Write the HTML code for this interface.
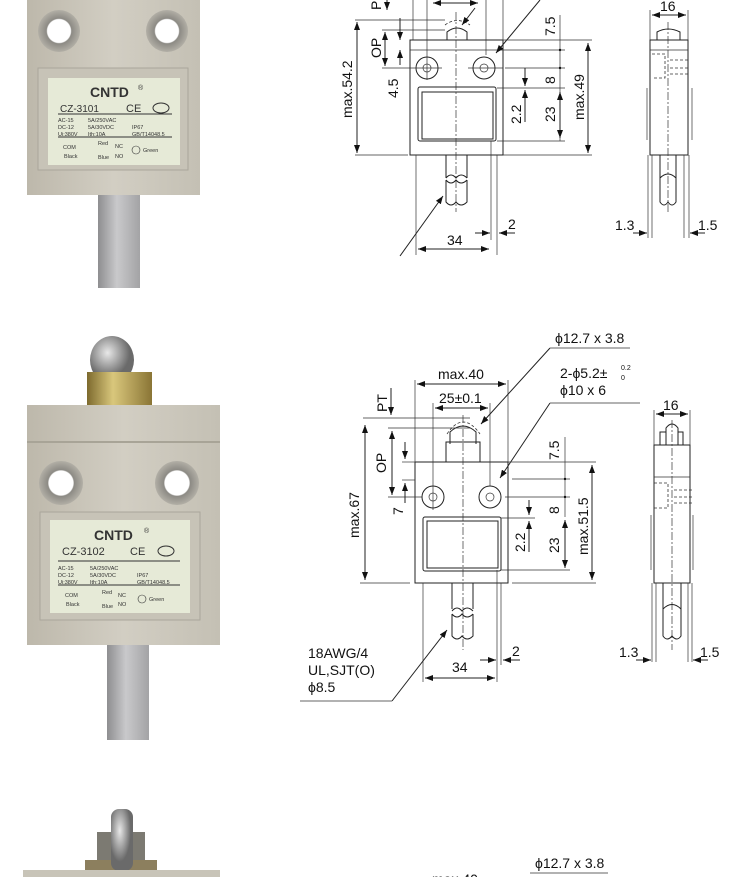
<!DOCTYPE html>
<html><head><meta charset="utf-8"><style>
html,body{margin:0;padding:0;background:#fff;}
svg{display:block;}
text{font-family:"Liberation Sans",sans-serif;fill:#111;}
.d{stroke:#222;stroke-width:1;fill:none;}
.t{stroke:#333;stroke-width:0.7;fill:none;}
.c{stroke:#333;stroke-width:0.7;fill:none;stroke-dasharray:8 2 2 2;}
.h{stroke:#333;stroke-width:0.8;fill:none;stroke-dasharray:3 2;}
.lbl text{fill:#333;}
</style></head><body>
<svg width="750" height="877" viewBox="0 0 750 877" xmlns="http://www.w3.org/2000/svg">
<defs>
<marker id="a" markerWidth="8" markerHeight="6" refX="8" refY="3" orient="auto-start-reverse" markerUnits="userSpaceOnUse"><path d="M0,0 L8,3 L0,6z" fill="#111"/></marker>
<linearGradient id="body" x1="0" x2="1"><stop offset="0" stop-color="#bdb8ab"/><stop offset="0.5" stop-color="#d2cec3"/><stop offset="1" stop-color="#c4c0b4"/></linearGradient>
<linearGradient id="cab" x1="0" x2="1"><stop offset="0" stop-color="#8e8e90"/><stop offset="0.45" stop-color="#c9c9cb"/><stop offset="1" stop-color="#a3a3a5"/></linearGradient>
<linearGradient id="brass" x1="0" x2="1"><stop offset="0" stop-color="#7d6a2e"/><stop offset="0.4" stop-color="#d9c77c"/><stop offset="1" stop-color="#8a7535"/></linearGradient>
<radialGradient id="steel" cx="0.4" cy="0.35"><stop offset="0" stop-color="#e8e8e8"/><stop offset="1" stop-color="#6a6a6a"/></radialGradient>
<radialGradient id="hole"><stop offset="0.55" stop-color="#fff"/><stop offset="0.6" stop-color="#8c8a84"/><stop offset="1" stop-color="#b2afa6"/></radialGradient>
</defs>

<!-- ================= PHOTO 1 ================= -->
<rect x="98" y="190" width="42" height="98" fill="url(#cab)"/>
<rect x="27" y="0" width="173" height="195" fill="url(#body)"/>
<circle cx="59" cy="31" r="21" fill="url(#hole)"/>
<circle cx="167" cy="31" r="21" fill="url(#hole)"/>
<rect x="38" y="68" width="150" height="102" fill="#c7c3b7" stroke="#aaa69b"/>
<rect x="48" y="78" width="132" height="87" fill="#e6ead7"/>
<g class="lbl">
<text x="90" y="97" font-size="14" font-weight="bold">CNTD</text><text x="138" y="90" font-size="7">®</text>
<text x="60" y="112" font-size="10">CZ-3101</text><text x="126" y="112" font-size="11">CE</text>
<ellipse cx="161" cy="108" rx="8" ry="5" fill="none" stroke="#333"/>
<line x1="58" y1="114" x2="172" y2="114" stroke="#333"/>
<text x="58" y="122" font-size="5.5">AC-15</text><text x="88" y="122" font-size="5.5">5A/250VAC</text>
<text x="58" y="129" font-size="5.5">DC-12</text><text x="88" y="129" font-size="5.5">5A/30VDC</text><text x="132" y="129" font-size="5.5">IP67</text>
<text x="58" y="136" font-size="5.5">Ui:380V</text><text x="88" y="136" font-size="5.5">Ith:10A</text><text x="132" y="136" font-size="5.5">GB/T14048.5</text>
<line x1="58" y1="137" x2="172" y2="137" stroke="#333"/>
<text x="63" y="149" font-size="5.5">COM</text><text x="98" y="145" font-size="5.5">Red</text><text x="115" y="148" font-size="5.5">NC</text>
<text x="64" y="158" font-size="5.5">Black</text><text x="98" y="159" font-size="5.5">Blue</text><text x="115" y="158" font-size="5.5">NO</text>
<circle cx="136" cy="150" r="4" fill="none" stroke="#333" stroke-width="0.6"/><text x="143" y="152" font-size="5.5">Green</text>
</g>

<!-- ================= PHOTO 2 ================= -->
<rect x="107" y="640" width="42" height="100" fill="url(#cab)"/>
<ellipse cx="112" cy="360" rx="22" ry="24" fill="url(#steel)"/>
<rect x="87" y="372" width="65" height="38" fill="url(#brass)"/>
<rect x="27" y="405" width="193" height="240" fill="url(#body)"/>
<line x1="27" y1="442" x2="220" y2="442" stroke="#a8a497" stroke-width="2"/>
<circle cx="61" cy="483" r="22" fill="url(#hole)"/>
<circle cx="177" cy="483" r="22" fill="url(#hole)"/>
<rect x="40" y="512" width="160" height="108" fill="#c7c3b7" stroke="#aaa69b"/>
<rect x="50" y="520" width="140" height="93" fill="#e6ead7"/>
<g class="lbl">
<text x="94" y="540" font-size="14" font-weight="bold">CNTD</text><text x="144" y="533" font-size="7">®</text>
<text x="62" y="555" font-size="11">CZ-3102</text><text x="130" y="555" font-size="11">CE</text>
<ellipse cx="166" cy="551" rx="8" ry="5" fill="none" stroke="#333"/>
<line x1="58" y1="561" x2="180" y2="561" stroke="#333"/>
<text x="58" y="570" font-size="5.5">AC-15</text><text x="90" y="570" font-size="5.5">5A/250VAC</text>
<text x="58" y="577" font-size="5.5">DC-12</text><text x="90" y="577" font-size="5.5">5A/30VDC</text><text x="137" y="577" font-size="5.5">IP67</text>
<text x="58" y="584" font-size="5.5">Ui:380V</text><text x="90" y="584" font-size="5.5">Ith:10A</text><text x="137" y="584" font-size="5.5">GB/T14048.5</text>
<line x1="58" y1="585" x2="180" y2="585" stroke="#333"/>
<text x="65" y="597" font-size="5.5">COM</text><text x="102" y="594" font-size="5.5">Red</text><text x="118" y="597" font-size="5.5">NC</text>
<text x="66" y="606" font-size="5.5">Black</text><text x="102" y="608" font-size="5.5">Blue</text><text x="118" y="606" font-size="5.5">NO</text>
<circle cx="142" cy="599" r="4" fill="none" stroke="#333" stroke-width="0.6"/><text x="149" y="601" font-size="5.5">Green</text>
</g>

<!-- ================= PHOTO 3 (partial) ================= -->
<rect x="97" y="832" width="48" height="45" fill="#7c7a72"/>
<rect x="85" y="860" width="72" height="17" fill="#8c7f5e"/>
<rect x="111" y="809" width="22" height="62" rx="8" fill="url(#steel)"/>
<rect x="23" y="870" width="197" height="7" fill="#c8c4b8"/>

<!-- ================= DRAWING 1 ================= -->
<g>
<rect class="d" x="410" y="40" width="93" height="115"/>
<line class="t" x1="410" y1="50" x2="503" y2="50"/>
<circle class="d" cx="427" cy="68" r="11"/><circle class="t" cx="427" cy="68" r="4"/>
<circle class="d" cx="484" cy="68" r="11"/><circle class="t" cx="484" cy="68" r="4"/>
<line class="t" x1="410" y1="68" x2="442" y2="68"/><line class="t" x1="468" y1="68" x2="503" y2="68"/>
<rect class="d" x="418" y="87" width="78" height="54" rx="2"/>
<rect class="d" x="422" y="92" width="71" height="47"/>
<path class="d" d="M447,40 V32 Q457,24 467,32 V40"/>
<path class="h" d="M445,25 Q457,16 470,25"/>
<line class="c" x1="456" y1="12" x2="456" y2="212"/>
<path class="d" d="M446,155 V178 M467,155 V178 M446,180 V202 Q451,208 456,202 Q461,208 467,202 V180 M446,178 Q451,172 456,178 Q461,172 467,178"/>
<path class="d" d="M446,180 Q451,186 456,180 Q461,186 467,180"/>
<!-- ext lines -->
<line class="t" x1="413" y1="0" x2="413" y2="40"/>
<line class="t" x1="427" y1="0" x2="427" y2="80"/>
<line class="t" x1="486" y1="0" x2="486" y2="55"/>
<line class="t" x1="503" y1="0" x2="503" y2="40"/>
<line class="t" x1="355" y1="20" x2="445" y2="20"/>
<line class="t" x1="355" y1="155" x2="408" y2="155"/>
<line class="t" x1="382" y1="30" x2="445" y2="30"/>
<line class="t" x1="382" y1="68" x2="410" y2="68"/>
<line class="d" x1="357" y1="22" x2="357" y2="153" marker-start="url(#a)" marker-end="url(#a)"/>
<text transform="translate(352,118) rotate(-90)" font-size="14">max.54.2</text>
<line class="d" x1="385" y1="32" x2="385" y2="66" marker-start="url(#a)" marker-end="url(#a)"/>
<text transform="translate(381,58) rotate(-90)" font-size="14">OP</text>
<line class="d" x1="400" y1="18" x2="400" y2="40" marker-end="url(#a)"/>
<line class="d" x1="400" y1="65" x2="400" y2="50" marker-end="url(#a)"/>
<text transform="translate(398,98) rotate(-90)" font-size="14">4.5</text>
<text transform="translate(381,10) rotate(-90)" font-size="14">P</text>
<line class="d" x1="387" y1="0" x2="387" y2="10" marker-end="url(#a)"/>
<line class="d" x1="433" y1="3" x2="478" y2="3" marker-start="url(#a)" marker-end="url(#a)"/>
<line class="d" x1="475" y1="8" x2="462" y2="25" marker-end="url(#a)"/>
<line class="d" x1="540" y1="0" x2="496" y2="53" marker-end="url(#a)"/>
<!-- right dims -->
<line class="t" x1="503" y1="40" x2="592" y2="40"/>
<line class="t" x1="503" y1="50" x2="565" y2="50"/>
<line class="t" x1="505" y1="68" x2="565" y2="68"/>
<line class="t" x1="497" y1="88" x2="565" y2="88"/>
<line class="t" x1="497" y1="141" x2="565" y2="141"/>
<line class="t" x1="503" y1="155" x2="592" y2="155"/>
<line class="t" x1="560" y1="15" x2="560" y2="141"/>
<circle cx="560" cy="50" r="1.2" fill="#111"/><circle cx="560" cy="68" r="1.2" fill="#111"/>
<text transform="translate(555,36) rotate(-90)" font-size="14">7.5</text>
<text transform="translate(555,84) rotate(-90)" font-size="14">8</text>
<text transform="translate(555,122) rotate(-90)" font-size="14">23</text>
<line class="d" x1="560" y1="92" x2="560" y2="138" marker-start="url(#a)" marker-end="url(#a)"/>
<line class="d" x1="525" y1="68" x2="525" y2="86" marker-end="url(#a)"/>
<line class="d" x1="525" y1="122" x2="525" y2="90" marker-end="url(#a)"/>
<text transform="translate(521,124) rotate(-90)" font-size="14">2.2</text>
<line class="d" x1="588" y1="43" x2="588" y2="153" marker-start="url(#a)" marker-end="url(#a)"/>
<text transform="translate(584,120) rotate(-90)" font-size="14">max.49</text>
<!-- bottom -->
<line class="t" x1="416" y1="155" x2="416" y2="255"/>
<line class="t" x1="491" y1="141" x2="491" y2="240"/>
<line class="t" x1="497" y1="155" x2="497" y2="255"/>
<line class="d" x1="418" y1="249" x2="489" y2="249" marker-start="url(#a)" marker-end="url(#a)"/>
<text x="447" y="245" font-size="14">34</text>
<line class="d" x1="475" y1="233" x2="490" y2="233" marker-end="url(#a)"/>
<line class="d" x1="515" y1="233" x2="499" y2="233" marker-end="url(#a)"/>
<text x="508" y="229" font-size="14">2</text>
<line class="d" x1="400" y1="256" x2="443" y2="196" marker-end="url(#a)"/>
<!-- side view 1 -->
<rect class="d" x="650" y="40" width="38" height="115"/>
<line class="t" x1="650" y1="50" x2="688" y2="50"/>
<path class="d" d="M657,40 V32 Q668,26 680,32 V40"/>
<line class="c" x1="668" y1="22" x2="668" y2="212"/>
<path class="h" d="M652,54 H665 V78 H652 M670,60 H688 M670,68 H688 M670,74 H688"/>
<line class="t" x1="647" y1="88" x2="647" y2="140"/><line class="t" x1="692" y1="88" x2="692" y2="140"/>
<path class="d" d="M660,155 V202 Q664,208 668,202 Q672,208 676,202 V155 M660,178 Q668,170 676,178"/>
<line class="t" x1="650" y1="10" x2="650" y2="40"/><line class="t" x1="688" y1="10" x2="688" y2="40"/>
<line class="d" x1="652" y1="15" x2="686" y2="15" marker-start="url(#a)" marker-end="url(#a)"/>
<text x="660" y="11" font-size="14">16</text>
<line class="t" x1="648" y1="155" x2="648" y2="238"/><line class="t" x1="652" y1="155" x2="652" y2="238"/>
<line class="t" x1="684" y1="155" x2="684" y2="238"/><line class="t" x1="689" y1="155" x2="689" y2="238"/>
<line class="d" x1="633" y1="233" x2="647" y2="233" marker-end="url(#a)"/>
<line class="d" x1="705" y1="233" x2="690" y2="233" marker-end="url(#a)"/>
<text x="615" y="230" font-size="14">1.3</text><text x="698" y="230" font-size="14">1.5</text>
</g>

<!-- ================= DRAWING 2 ================= -->
<g>
<rect class="d" x="415" y="462" width="93" height="121"/>
<circle class="d" cx="433" cy="497" r="11"/><circle class="t" cx="433" cy="497" r="4"/>
<circle class="d" cx="490" cy="497" r="11"/><circle class="t" cx="490" cy="497" r="4"/>
<rect class="d" x="423" y="517" width="78" height="54" rx="2"/>
<rect class="d" x="427" y="521" width="71" height="47"/>
<rect class="d" x="446" y="442" width="34" height="20"/>
<path class="d" d="M450,444 V432 Q463,420 476,432 V444"/>
<path class="h" d="M447,434 Q463,410 480,434"/>
<line class="c" x1="463" y1="415" x2="463" y2="650"/>
<path class="d" d="M452,583 V609 M473,583 V609 M452,614 V636 Q457,642 462,636 Q467,642 473,636 V614 M452,611 Q457,605 462,611 Q467,605 473,611 M452,614 Q457,620 462,614 Q467,620 473,614"/>
<!-- top dims -->
<line class="t" x1="415" y1="380" x2="415" y2="462"/><line class="t" x1="508" y1="380" x2="508" y2="462"/>
<line class="d" x1="417" y1="384" x2="506" y2="384" marker-start="url(#a)" marker-end="url(#a)"/>
<text x="438" y="379" font-size="14">max.40</text>
<line class="t" x1="433" y1="403" x2="433" y2="510"/><line class="t" x1="490" y1="403" x2="490" y2="486"/>
<line class="d" x1="435" y1="408" x2="488" y2="408" marker-start="url(#a)" marker-end="url(#a)"/>
<text x="439" y="403" font-size="14">25±0.1</text>
<line class="t" x1="363" y1="418" x2="470" y2="418"/>
<line class="t" x1="388" y1="428" x2="470" y2="428"/>
<line class="d" x1="391" y1="388" x2="391" y2="415" marker-end="url(#a)"/>
<text transform="translate(387,412) rotate(-90)" font-size="14">PT</text>
<line class="d" x1="392" y1="431" x2="392" y2="495" marker-start="url(#a)" marker-end="url(#a)"/>
<text transform="translate(386,473) rotate(-90)" font-size="14">OP</text>
<line class="t" x1="402" y1="462" x2="415" y2="462"/>
<line class="t" x1="388" y1="497" x2="422" y2="497"/>
<line class="t" x1="402" y1="480" x2="415" y2="480"/>
<line class="d" x1="405" y1="442" x2="405" y2="459" marker-end="url(#a)"/>
<line class="d" x1="405" y1="503" x2="405" y2="483" marker-end="url(#a)"/>
<text transform="translate(403,515) rotate(-90)" font-size="14">7</text>
<line class="t" x1="360" y1="583" x2="410" y2="583"/>
<line class="d" x1="365" y1="425" x2="365" y2="580" marker-start="url(#a)" marker-end="url(#a)"/>
<text transform="translate(359,538) rotate(-90)" font-size="14">max.67</text>
<!-- leaders -->
<line class="d" x1="550" y1="348" x2="481" y2="424" marker-end="url(#a)"/>
<line class="t" x1="550" y1="348" x2="630" y2="348"/>
<text x="555" y="343" font-size="14">ϕ12.7 x 3.8</text>
<line class="d" x1="550" y1="403" x2="500" y2="478" marker-end="url(#a)"/>
<line class="t" x1="550" y1="403" x2="640" y2="403"/>
<text x="560" y="378" font-size="14">2-ϕ5.2±</text><text x="621" y="370" font-size="7">0.2</text><text x="621" y="380" font-size="7">0</text>
<text x="560" y="395" font-size="14">ϕ10 x 6</text>
<!-- right dims -->
<line class="t" x1="508" y1="462" x2="596" y2="462"/>
<line class="t" x1="512" y1="479" x2="570" y2="479"/>
<line class="t" x1="505" y1="497" x2="570" y2="497"/>
<line class="t" x1="501" y1="518" x2="535" y2="518"/>
<line class="t" x1="501" y1="570" x2="570" y2="570"/>
<line class="t" x1="512" y1="583" x2="596" y2="583"/>
<line class="t" x1="565" y1="437" x2="565" y2="517"/>
<circle cx="565" cy="479" r="1.2" fill="#111"/><circle cx="565" cy="497" r="1.2" fill="#111"/>
<text transform="translate(559,460) rotate(-90)" font-size="14">7.5</text>
<text transform="translate(559,514) rotate(-90)" font-size="14">8</text>
<line class="d" x1="565" y1="520" x2="565" y2="568" marker-start="url(#a)" marker-end="url(#a)"/>
<text transform="translate(559,553) rotate(-90)" font-size="14">23</text>
<line class="d" x1="529" y1="500" x2="529" y2="515" marker-end="url(#a)"/>
<line class="d" x1="529" y1="552" x2="529" y2="521" marker-end="url(#a)"/>
<text transform="translate(525,552) rotate(-90)" font-size="14">2.2</text>
<line class="d" x1="592" y1="465" x2="592" y2="580" marker-start="url(#a)" marker-end="url(#a)"/>
<text transform="translate(588,555) rotate(-90)" font-size="14">max.51.5</text>
<!-- bottom -->
<line class="t" x1="423" y1="583" x2="423" y2="682"/>
<line class="t" x1="497" y1="570" x2="497" y2="682"/>
<line class="t" x1="501" y1="583" x2="501" y2="665"/>
<line class="d" x1="425" y1="678" x2="495" y2="678" marker-start="url(#a)" marker-end="url(#a)"/>
<text x="452" y="672" font-size="14">34</text>
<line class="d" x1="480" y1="660" x2="496" y2="660" marker-end="url(#a)"/>
<line class="d" x1="520" y1="660" x2="503" y2="660" marker-end="url(#a)"/>
<text x="512" y="656" font-size="14">2</text>
<text x="308" y="658" font-size="14">18AWG/4</text>
<text x="308" y="675" font-size="14">UL,SJT(O)</text>
<text x="308" y="692" font-size="14">ϕ8.5</text>
<line class="t" x1="300" y1="701" x2="392" y2="701"/>
<line class="d" x1="392" y1="701" x2="447" y2="630" marker-end="url(#a)"/>
<!-- side view 2 -->
<rect class="d" x="654" y="445" width="36" height="138"/>
<line class="t" x1="654" y1="477" x2="690" y2="477"/>
<path class="d" d="M660,445 V432 H666 M683,445 V432 H678"/>
<path class="d" d="M666,445 V428 Q672,420 678,428 V445"/>
<line class="c" x1="672" y1="420" x2="672" y2="650"/>
<path class="h" d="M654,483 H668 V508 H654 M674,490 H694 M674,497 H694 M674,503 H694"/>
<line class="t" x1="651" y1="515" x2="651" y2="570"/><line class="t" x1="693" y1="515" x2="693" y2="570"/>
<path class="d" d="M663,583 V636 Q667,642 672,636 Q677,642 681,636 V583 M663,609 Q672,600 681,609"/>
<line class="t" x1="654" y1="410" x2="654" y2="445"/><line class="t" x1="690" y1="410" x2="690" y2="445"/>
<line class="d" x1="656" y1="414" x2="688" y2="414" marker-start="url(#a)" marker-end="url(#a)"/>
<text x="663" y="410" font-size="14">16</text>
<line class="t" x1="652" y1="583" x2="652" y2="662"/><line class="t" x1="656" y1="583" x2="656" y2="662"/>
<line class="t" x1="688" y1="583" x2="688" y2="662"/><line class="t" x1="692" y1="583" x2="692" y2="662"/>
<line class="d" x1="636" y1="660" x2="651" y2="660" marker-end="url(#a)"/>
<line class="d" x1="708" y1="660" x2="693" y2="660" marker-end="url(#a)"/>
<text x="619" y="657" font-size="14">1.3</text><text x="700" y="657" font-size="14">1.5</text>
</g>

<!-- ================= DRAWING 3 (partial) ================= -->
<text x="535" y="868" font-size="14">ϕ12.7 x 3.8</text>
<line class="t" x1="530" y1="873" x2="608" y2="873"/>
<text x="432" y="884" font-size="14">max.40</text>
</svg>
</body></html>
